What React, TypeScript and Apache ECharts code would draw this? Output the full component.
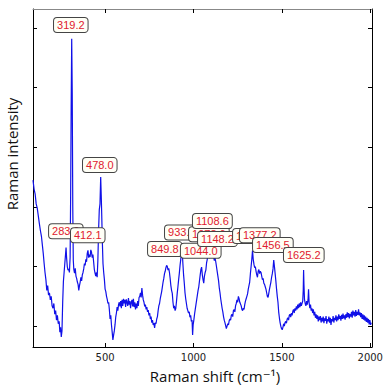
import React, { useEffect, useRef } from "react";
import * as echarts from "echarts";

// Raman spectrum: [Raman shift (cm-1), intensity (a.u.)]
const spectrum: [number, number][] = [
  [92, 2.45], [98, 2.3], [104, 2.22], [110, 2.05], [116, 1.98], [122, 1.85], [128, 1.72], [134, 1.6], [140, 1.5], [145, 1.36],
  [150, 1.22], [155, 1.05], [160, 0.9], [165, 0.78], [170, 0.6], [175, 0.68], [180, 0.52], [185, 0.56], [190, 0.44], [195, 0.5],
  [200, 0.34], [205, 0.3], [210, 0.38], [215, 0.2], [220, 0.26], [225, 0.1], [230, 0.18], [235, 0.04], [240, 0.08], [244, -0.1],
  [248, -0.02], [252, -0.18], [256, -0.08], [260, 0.4], [264, 0.75], [268, 0.9], [272, 1.05], [276, 1.2], [279, 1.32], [282, 1.15],
  [286, 1.0], [290, 0.94], [294, 0.96], [298, 0.9], [302, 1.15], [305, 2.2], [308, 3.7], [311, 4.82], [314, 3.9], [317, 2.0],
  [320, 1.1], [323, 0.95], [327, 0.89], [331, 0.97], [335, 0.84], [339, 0.8], [343, 0.74], [347, 0.7], [351, 0.6], [355, 0.68],
  [359, 0.74], [363, 0.82], [367, 0.76], [371, 0.86], [375, 0.9], [379, 0.96], [383, 1.05], [387, 1.02], [391, 1.12], [395, 1.08],
  [399, 1.22], [403, 1.27], [407, 1.15], [411, 1.2], [415, 1.16], [419, 1.28], [423, 1.24], [427, 1.15], [431, 1.2], [435, 1.08],
  [439, 0.95], [443, 0.89], [447, 0.84], [451, 0.9], [455, 0.82], [459, 1.1], [463, 1.6], [467, 1.95], [471, 2.05], [475, 2.5],
  [478, 2.2], [481, 1.85], [484, 1.45], [488, 1.05], [492, 0.9], [496, 0.78], [500, 0.62], [504, 0.58], [508, 0.5], [512, 0.45],
  [516, 0.38], [520, 0.4], [524, 0.28], [528, 0.12], [532, 0.18], [536, 0.02], [540, -0.1], [544, -0.23], [548, -0.15], [552, -0.08],
  [556, 0.02], [560, 0.15], [564, 0.22], [568, 0.32], [572, 0.26], [576, 0.36], [580, 0.4], [584, 0.33], [588, 0.42], [592, 0.3],
  [596, 0.44], [600, 0.34], [604, 0.46], [608, 0.38], [612, 0.44], [616, 0.32], [620, 0.45], [624, 0.4], [628, 0.34], [632, 0.47],
  [636, 0.36], [640, 0.42], [644, 0.3], [648, 0.4], [652, 0.44], [656, 0.33], [660, 0.46], [664, 0.32], [668, 0.4], [672, 0.28],
  [676, 0.38], [680, 0.3], [684, 0.42], [688, 0.34], [692, 0.48], [696, 0.5], [700, 0.56], [704, 0.48], [708, 0.64], [712, 0.52],
  [716, 0.44], [720, 0.4], [724, 0.33], [728, 0.36], [732, 0.28], [736, 0.32], [740, 0.24], [744, 0.27], [748, 0.18], [752, 0.22],
  [756, 0.12], [760, 0.16], [764, 0.06], [768, 0.1], [772, 0.02], [776, 0.05], [780, -0.03], [784, 0.06], [788, 0.04], [792, 0.12],
  [796, 0.16], [800, 0.26], [804, 0.34], [808, 0.38], [812, 0.46], [816, 0.52], [820, 0.58], [824, 0.66], [828, 0.74], [832, 0.8],
  [836, 0.88], [840, 0.92], [844, 0.98], [848, 1.02], [852, 1.0], [856, 0.94], [860, 0.97], [864, 0.9], [868, 0.8], [872, 0.68],
  [876, 0.6], [880, 0.55], [884, 0.4], [888, 0.3], [892, 0.34], [896, 0.26], [900, 0.3], [904, 0.42], [908, 0.55], [912, 0.66],
  [916, 0.78], [920, 0.89], [924, 1.02], [928, 1.12], [932, 1.22], [936, 1.27], [940, 1.05], [944, 0.86], [948, 0.72], [952, 0.56],
  [956, 0.46], [960, 0.38], [964, 0.3], [968, 0.26], [972, 0.22], [976, 0.24], [980, 0.15], [984, 0.18], [988, 0.08], [992, 0.1],
  [995, -0.15], [998, 0.02], [1002, 0.1], [1006, 0.2], [1010, 0.28], [1014, 0.36], [1018, 0.44], [1022, 0.52], [1026, 0.6], [1030, 0.66],
  [1034, 0.76], [1038, 0.86], [1042, 0.95], [1046, 0.99], [1050, 0.86], [1054, 0.78], [1058, 0.72], [1062, 0.84], [1066, 0.9], [1070, 0.94],
  [1074, 1.06], [1078, 1.12], [1082, 1.2], [1086, 1.27], [1090, 1.14], [1094, 1.18], [1098, 1.15], [1102, 1.22], [1106, 1.18], [1110, 1.24],
  [1114, 1.16], [1118, 1.1], [1122, 1.14], [1126, 1.08], [1130, 1.0], [1134, 0.92], [1138, 0.84], [1142, 0.76], [1146, 0.64], [1150, 0.56],
  [1154, 0.46], [1158, 0.38], [1162, 0.3], [1166, 0.24], [1170, 0.16], [1174, 0.1], [1178, 0.06], [1182, 0.01], [1186, -0.04], [1190, 0.0],
  [1194, 0.04], [1198, 0.02], [1202, 0.09], [1206, 0.12], [1210, 0.1], [1214, 0.18], [1218, 0.2], [1222, 0.16], [1226, 0.26], [1230, 0.28],
  [1234, 0.24], [1238, 0.34], [1242, 0.38], [1246, 0.44], [1250, 0.4], [1254, 0.5], [1258, 0.46], [1262, 0.4], [1266, 0.37], [1270, 0.34],
  [1274, 0.28], [1278, 0.26], [1282, 0.3], [1286, 0.28], [1290, 0.36], [1294, 0.42], [1298, 0.46], [1302, 0.5], [1306, 0.54], [1310, 0.62],
  [1314, 0.68], [1318, 0.74], [1322, 0.88], [1326, 1.0], [1330, 1.12], [1334, 1.27], [1338, 1.12], [1342, 1.04], [1346, 0.98], [1350, 1.0],
  [1354, 0.92], [1358, 0.86], [1362, 0.82], [1366, 0.92], [1370, 0.95], [1374, 0.88], [1378, 0.92], [1382, 0.9], [1386, 0.84], [1390, 0.78],
  [1394, 0.8], [1398, 0.72], [1402, 0.7], [1406, 0.66], [1410, 0.62], [1414, 0.56], [1418, 0.5], [1422, 0.48], [1426, 0.55], [1430, 0.62],
  [1434, 0.68], [1438, 0.74], [1442, 0.82], [1446, 0.88], [1450, 0.96], [1454, 1.11], [1458, 1.0], [1462, 0.88], [1466, 0.76], [1470, 0.62],
  [1474, 0.5], [1478, 0.4], [1482, 0.24], [1486, 0.14], [1490, 0.06], [1494, 0.0], [1498, -0.04], [1502, -0.06], [1506, -0.02], [1510, 0.04],
  [1514, 0.0], [1518, 0.06], [1522, 0.08], [1526, 0.05], [1530, 0.12], [1534, 0.14], [1538, 0.1], [1542, 0.18], [1546, 0.2], [1550, 0.15],
  [1554, 0.22], [1558, 0.18], [1562, 0.25], [1566, 0.28], [1570, 0.22], [1574, 0.3], [1578, 0.26], [1582, 0.33], [1586, 0.28], [1590, 0.36],
  [1594, 0.3], [1598, 0.38], [1602, 0.32], [1606, 0.4], [1610, 0.34], [1614, 0.38], [1618, 0.42], [1621, 0.6], [1623, 0.94], [1625, 0.7],
  [1628, 0.45], [1632, 0.38], [1636, 0.34], [1640, 0.42], [1644, 0.36], [1648, 0.44], [1651, 0.62], [1654, 0.4], [1658, 0.3], [1662, 0.36],
  [1666, 0.26], [1670, 0.3], [1674, 0.22], [1678, 0.28], [1682, 0.18], [1686, 0.24], [1690, 0.14], [1694, 0.2], [1698, 0.12], [1702, 0.18],
  [1706, 0.08], [1710, 0.16], [1714, 0.1], [1718, 0.17], [1722, 0.06], [1726, 0.14], [1730, 0.08], [1734, 0.16], [1738, 0.05], [1742, 0.13],
  [1746, 0.09], [1750, 0.17], [1754, 0.04], [1758, 0.12], [1762, 0.08], [1766, 0.16], [1770, 0.06], [1774, 0.14], [1778, 0.02], [1782, 0.12],
  [1786, 0.08], [1790, 0.17], [1794, 0.06], [1798, 0.14], [1802, 0.1], [1806, 0.18], [1810, 0.08], [1814, 0.16], [1818, 0.1], [1822, 0.2],
  [1826, 0.12], [1830, 0.17], [1834, 0.09], [1838, 0.19], [1842, 0.12], [1846, 0.21], [1850, 0.13], [1854, 0.18], [1858, 0.11], [1862, 0.2],
  [1866, 0.14], [1870, 0.23], [1874, 0.15], [1878, 0.22], [1882, 0.13], [1886, 0.2], [1890, 0.16], [1894, 0.24], [1898, 0.14], [1902, 0.26],
  [1906, 0.18], [1910, 0.24], [1914, 0.16], [1918, 0.27], [1922, 0.17], [1926, 0.24], [1930, 0.19], [1934, 0.28], [1938, 0.18], [1942, 0.23],
  [1946, 0.15], [1950, 0.22], [1954, 0.12], [1958, 0.2], [1962, 0.11], [1966, 0.18], [1970, 0.09], [1974, 0.16], [1978, 0.07], [1982, 0.14],
  [1986, 0.06], [1990, 0.12], [1994, 0.03], [1998, 0.1], [2002, 0.02], [2006, 0.06],
];

// Data-tip labels (in drawing order) and where each tip box's top-left corner sits, in data units
const tipLabels: string[] = [
  "283.9", "412.1", "319.2", "478.0", "849.8", "933.4", "1078.6",
  "1044.0", "1108.6", "1148.2", "1336.2", "1377.2", "1456.5", "1625.2",
];
const tipAnchors: [number, number][] = [
  [183, 1.71], [307, 1.64], [211, 5.17], [375, 2.82], [743, 1.41], [839, 1.69], [975, 1.66],
  [929, 1.38], [997, 1.88], [1026, 1.58], [1224, 1.63], [1263, 1.64], [1337, 1.48], [1512, 1.31],
];

const xTicks: number[] = [500, 1000, 1500, 2000];
const yTicks: number[] = [0, 1, 2, 3, 4, 5];
const X_MIN = 92;
const X_MAX = 2010;
const Y_MIN = -0.35;
const Y_MAX = 5.32;

export default function App() {
  const ref = useRef<HTMLDivElement>(null);

  useEffect(() => {
    if (!ref.current) return;
    const chart = echarts.init(ref.current, null, { renderer: "svg" });
    const font = "'DejaVu Sans', Verdana, sans-serif";
    const tipFont = "'Liberation Sans', Arial, sans-serif";
    const titleFont = "'Open Sans', 'DejaVu Sans', sans-serif";

    const baseX = {
      type: "value" as const,
      min: X_MIN,
      max: X_MAX,
      splitLine: { show: false },
    };
    const baseY = {
      type: "value" as const,
      min: Y_MIN,
      max: Y_MAX,
      splitLine: { show: false },
    };

    chart.setOption({
      animation: false,
      backgroundColor: "#ffffff",
      grid: { left: 33, right: 13, top: 9, bottom: 39, containLabel: false, outerBoundsMode: "none" },
      xAxis: [
        {
          ...baseX,
          position: "bottom",
          name: "Raman shift (cm⁻¹)",
          nameLocation: "middle",
          nameGap: 21,
          nameTextStyle: { fontFamily: titleFont, fontSize: 15, color: "#111", padding: [0, 0, 0, 25] },
          axisLine: { show: true, onZero: false, lineStyle: { color: "#000", width: 1 } },
          axisTick: { show: true, inside: true, length: 4, customValues: xTicks, lineStyle: { color: "#000" } },
          axisLabel: {
            show: true,
            customValues: xTicks,
            formatter: (v: number) => String(v),
            fontFamily: font,
            fontSize: 10,
            color: "#222",
            margin: 5,
          },
        },
        {
          ...baseX,
          position: "top",
          axisLine: { show: true, onZero: false, lineStyle: { color: "#888", width: 1 } },
          axisTick: { show: true, inside: true, length: 4, customValues: xTicks, lineStyle: { color: "#000" } },
          axisLabel: { show: false },
        },
      ],
      yAxis: [
        {
          ...baseY,
          position: "left",
          name: "Raman intensity",
          nameLocation: "middle",
          nameGap: 14,
          nameTextStyle: { fontFamily: titleFont, fontSize: 15, color: "#111", padding: [0, 0, 0, 48] },
          axisLine: { show: true, onZero: false, lineStyle: { color: "#000", width: 1 } },
          axisTick: { show: true, inside: true, length: 4, customValues: yTicks, lineStyle: { color: "#000" } },
          axisLabel: { show: false },
        },
        {
          ...baseY,
          position: "right",
          axisLine: { show: true, onZero: false, lineStyle: { color: "#000", width: 1 } },
          axisTick: { show: true, inside: true, length: 4, customValues: yTicks, lineStyle: { color: "#000" } },
          axisLabel: { show: false },
        },
      ],
      series: [
        {
          type: "line",
          xAxisIndex: 0,
          yAxisIndex: 0,
          data: spectrum,
          showSymbol: false,
          symbol: "none",
          clip: true,
          lineStyle: { color: "#1010e8", width: 1.2 },
          markPoint: {
            symbol: "rect",
            symbolSize: 0,
            silent: true,
            data: tipLabels.map((t, i) => ({
              coord: tipAnchors[i],
              value: t,
              label: {
                show: true,
                formatter: t,
                position: [0, 0],
                align: "left",
                verticalAlign: "top",
                fontFamily: tipFont,
                fontSize: 11,
                lineHeight: 12,
                color: "#e0202e",
                backgroundColor: "#fffff6",
                borderColor: "#444",
                borderWidth: 1,
                borderRadius: 3,
                padding: [1, 3, 1, 3],
              },
            })),
          },
        },
      ],
    });

    return () => chart.dispose();
  }, []);

  return (
    <div
      ref={ref}
      style={{ position: "fixed", left: 0, top: 0, width: 385, height: 386, background: "#fff" }}
    />
  );
}
